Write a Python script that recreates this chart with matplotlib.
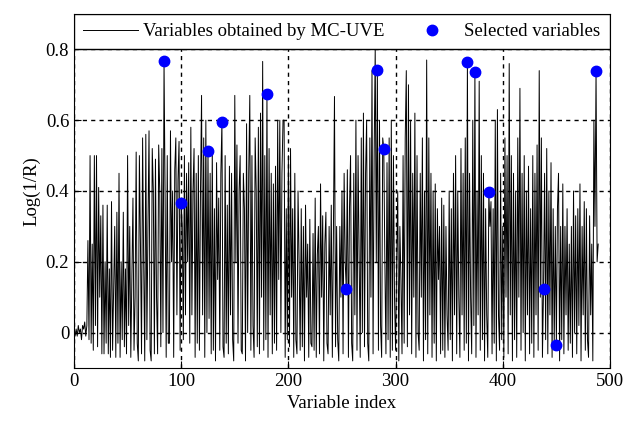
import matplotlib
matplotlib.use('Agg')
import matplotlib.pyplot as plt
from matplotlib.patches import Rectangle
import numpy as np

plt.rcParams['font.family'] = ['Liberation Serif', 'DejaVu Serif']

# Log(1/R) values of the variables obtained by MC-UVE (index 0..489)
values = [
    0.00, -0.01, 0.01, -0.01, 0.02, 0.00, 0.01, -0.02, 0.02, 0.01,
    0.03, -0.01, 0.02, 0.26, -0.02, 0.50, -0.03, 0.25, -0.05, 0.50,
    0.02, 0.50, -0.04, 0.41, 0.10, 0.33, -0.06, 0.36, -0.06, 0.20,
    -0.03, 0.36, -0.06, 0.18, -0.07, 0.37, -0.05, 0.12, 0.30, -0.07,
    0.34, -0.03, 0.45, -0.07, 0.20, -0.02, 0.34, -0.04, 0.18, -0.06,
    0.50, 0.02, 0.30, -0.07, 0.15, 0.38, -0.05, 0.10, 0.51, -0.03,
    -0.08, 0.50, 0.25, -0.06, 0.55, 0.20, -0.08, 0.56, -0.02, 0.30,
    0.57, -0.05, -0.08, 0.52, 0.40, -0.06, 0.49, 0.10, -0.06, 0.53,
    0.40, -0.04, 0.52, 0.00, 0.766, 0.38, -0.07, 0.50, -0.03, -0.03,
    0.57, 0.20, 0.40, -0.07, 0.46, 0.55, 0.05, 0.43, 0.54, -0.05,
    0.366, 0.30, -0.02, 0.50, 0.05, 0.45, 0.20, 0.48, -0.03, 0.58,
    0.05, 0.40, 0.52, -0.07, 0.45, -0.03, 0.50, -0.05, 0.40, 0.67,
    0.05, 0.55, -0.07, 0.60, 0.00, 0.514, 0.04, 0.45, -0.06, 0.52,
    -0.05, 0.35, -0.08, 0.48, 0.15, 0.38, -0.05, 0.45, 0.594, -0.04,
    -0.07, 0.50, -0.03, 0.36, -0.06, 0.47, 0.05, 0.45, -0.02, -0.08,
    0.67, 0.20, 0.53, -0.03, 0.40, 0.50, -0.05, -0.06, 0.45, 0.35,
    -0.08, 0.59, 0.00, 0.45, 0.67, -0.05, 0.50, 0.02, -0.07, 0.55,
    0.40, -0.04, 0.58, -0.06, 0.62, 0.10, 0.766, -0.05, 0.50, -0.02,
    0.674, -0.07, 0.52, 0.05, 0.45, -0.06, 0.42, -0.03, 0.47, -0.05,
    0.60, 0.15, 0.60, 0.00, 0.45, 0.60, 0.60, -0.07, 0.35, -0.02,
    0.50, -0.04, 0.52, 0.10, 0.35, -0.07, 0.45, -0.02, -0.06, 0.40,
    0.20, -0.05, 0.35, -0.04, 0.30, -0.08, 0.36, 0.10, 0.25, -0.07,
    0.32, -0.03, -0.04, 0.28, -0.05, 0.38, -0.07, 0.22, 0.30, -0.06,
    0.42, 0.10, 0.33, -0.08, 0.25, 0.34, -0.03, -0.06, 0.30, 0.05,
    0.36, -0.07, 0.28, 0.667, -0.04, 0.30, -0.02, -0.08, 0.30, 0.10,
    0.40, -0.06, 0.45, 0.20, 0.123, 0.46, -0.07, 0.35, 0.50, -0.03,
    -0.08, 0.45, 0.05, 0.60, -0.05, 0.50, 0.20, -0.07, 0.55, 0.00,
    0.62, -0.04, 0.45, 0.60, -0.03, -0.08, 0.55, 0.10, 0.74, -0.06,
    0.50, 0.80, 0.20, 0.743, -0.05, 0.60, 0.02, -0.07, 0.55, 0.52,
    0.20, -0.06, 0.48, -0.02, 0.55, -0.07, 0.60, -0.05, 0.50, 0.10,
    -0.05, 0.20, 0.40, -0.08, 0.30, 0.15, -0.06, 0.50, -0.03, 0.55,
    0.74, -0.04, 0.70, 0.05, 0.60, -0.06, 0.45, 0.10, 0.62, -0.07,
    0.50, 0.00, -0.05, 0.45, 0.10, 0.55, -0.08, 0.40, -0.02, 0.77,
    -0.06, 0.55, 0.05, 0.45, -0.07, 0.40, -0.03, 0.42, -0.08, 0.35,
    0.15, 0.30, -0.06, 0.38, -0.05, 0.36, -0.07, 0.30, 0.05, -0.05,
    0.40, -0.02, 0.35, -0.08, 0.45, 0.05, 0.50, -0.06, 0.40, 0.10,
    -0.07, 0.52, 0.05, 0.45, -0.05, 0.55, -0.03, 0.763, -0.08, 0.45,
    0.10, -0.06, 0.60, 0.02, 0.737, -0.07, 0.40, 0.05, 0.71, -0.05,
    0.50, -0.02, 0.45, -0.08, 0.35, 0.05, -0.07, 0.397, 0.30, 0.37,
    -0.06, 0.35, -0.03, 0.60, -0.08, 0.63, 0.05, -0.05, 0.45, -0.02,
    0.30, -0.07, 0.55, 0.10, 0.50, -0.06, 0.76, 0.05, 0.50, -0.08,
    0.45, -0.02, 0.40, -0.07, 0.55, 0.10, 0.69, -0.05, 0.45, 0.00,
    0.50, -0.08, 0.40, 0.05, 0.47, -0.06, 0.35, -0.03, 0.50, -0.07,
    0.45, 0.05, 0.53, -0.05, 0.74, 0.10, 0.55, -0.07, 0.123, 0.45,
    -0.02, 0.52, -0.06, 0.40, 0.05, 0.48, -0.07, 0.35, -0.03, 0.30,
    -0.034, 0.35, 0.45, -0.08, 0.30, -0.02, 0.42, -0.06, 0.30, 0.05,
    0.35, -0.05, 0.25, -0.03, 0.30, -0.07, 0.40, 0.00, 0.33, -0.06,
    0.35, 0.02, 0.42, -0.08, 0.30, 0.05, 0.37, -0.05, 0.35, -0.02,
    -0.07, 0.33, 0.05, 0.25, -0.08, 0.60, 0.30, 0.74, 0.20, 0.25,
]
selected = [84, 100, 125, 138, 180, 254, 283, 289, 367, 374, 387, 438, 450, 487]

values = np.array(values)
idx = np.arange(len(values))

fig = plt.figure(figsize=(6.26, 4.21), dpi=100)
ax = fig.add_axes([0.1182, 0.1259, 0.8562, 0.8409])

ax.plot(idx, values, color='black', linewidth=0.7, label='Variables obtained by MC-UVE')
ax.plot(selected, values[selected], 'o', color='blue', markersize=7.5, linestyle='none',
        label='Selected variables')

ax.set_xlim(0, 500)
ax.set_ylim(-0.1, 0.9)
ax.set_xticks([0, 100, 200, 300, 400, 500])
ax.set_yticks([0, 0.2, 0.4, 0.6, 0.8])
ax.set_yticklabels(['0', '0.2', '0.4', '0.6', '0.8'])
ax.tick_params(direction='in', length=5, labelsize=13.5)
ax.grid(True, color='black', linestyle=(0, (3, 3)), linewidth=1.0)

ax.set_xlabel('Variable index', fontsize=13.5)
ax.set_ylabel('Log(1/R)', fontsize=13.5)

# legend band across the top of the axes
band = Rectangle((0, 0.9), 1, 0.1, transform=ax.transAxes, facecolor='white',
                 edgecolor='black', linewidth=1.0, zorder=4)
ax.add_patch(band)
leg = ax.legend(loc='center', bbox_to_anchor=(0, 0.9, 1, 0.1), mode='expand', ncol=2,
                borderaxespad=0, borderpad=0.5, frameon=False, fontsize=13.5,
                handlelength=2.9, handletextpad=0.3)
leg.set_zorder(5)

plt.savefig('out.png', dpi=100)
